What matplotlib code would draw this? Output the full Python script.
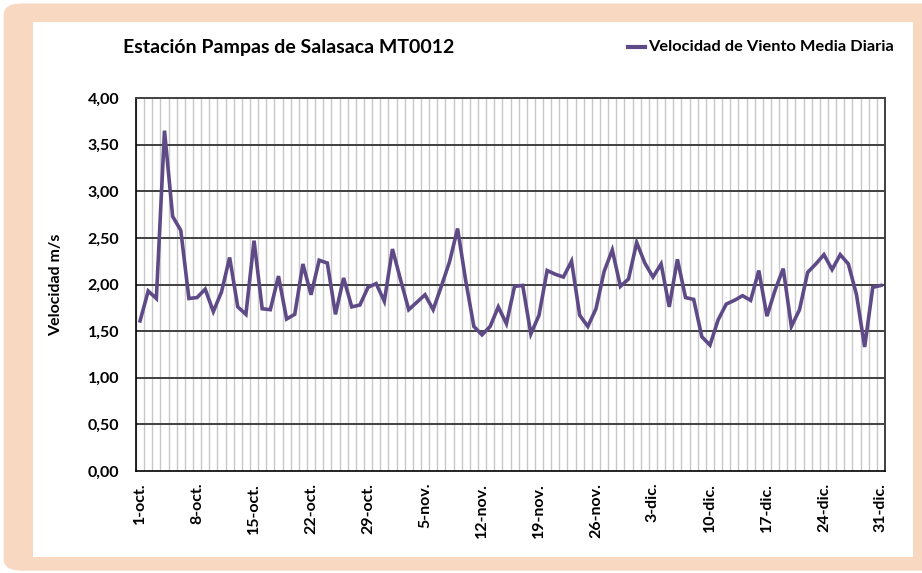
import numpy as np
import pandas as pd
import matplotlib
matplotlib.use("Agg")
import matplotlib.pyplot as plt
from matplotlib.patches import FancyBboxPatch, Rectangle

# velocidad media diaria (m/s), 1-oct .. 31-dic
velocidad = [
    1.61, 1.93, 1.85, 3.65, 2.73, 2.58, 1.85, 1.86, 1.95, 1.71,
    1.92, 2.29, 1.76, 1.68, 2.47, 1.74, 1.73, 2.09, 1.63, 1.68,
    2.22, 1.89, 2.26, 2.23, 1.68, 2.07, 1.76, 1.78, 1.97, 2.01,
    1.82, 2.38, 2.05, 1.73, 1.81, 1.89, 1.73, 1.98, 2.24, 2.60,
    2.04, 1.55, 1.46, 1.55, 1.76, 1.58, 1.98, 1.99, 1.47, 1.67,
    2.15, 2.11, 2.08, 2.25, 1.67, 1.55, 1.74, 2.14, 2.37, 1.98,
    2.06, 2.45, 2.23, 2.08, 2.22, 1.76, 2.27, 1.86, 1.84, 1.44,
    1.35, 1.62, 1.79, 1.83, 1.88, 1.83, 2.15, 1.66, 1.94, 2.17,
    1.55, 1.73, 2.13, 2.22, 2.32, 2.16, 2.32, 2.22, 1.89, 1.33,
    1.97, 1.99,
]
MESES = {10: "oct.", 11: "nov.", 12: "dic."}
fechas = pd.date_range("2013-10-01", periods=len(velocidad), freq="D")
etiquetas = [f"{d.day}-{MESES[d.month]}" for d in fechas]

TITULO = "Estación Pampas de Salasaca MT0012"
SERIE = "Velocidad de Viento Media Diaria"

FUENTE = "Lato"
COLOR_LINEA = "#5E4A86"
DURAZNO = "#F9D8C2"

fig = plt.figure(figsize=(9.22, 5.73), dpi=100)
fig.patch.set_facecolor("white")

# marco exterior y panel blanco (detrás de los ejes)
fig.patches.append(FancyBboxPatch((0.004, 0.004), 1.1, 0.99, boxstyle="round,pad=0,rounding_size=0.02",
                                  transform=fig.transFigure, facecolor=DURAZNO, edgecolor="none", zorder=-2))
fig.patches.append(Rectangle((33 / 922, 1 - 557 / 573), (913 - 33) / 922, (557 - 22) / 573,
                             transform=fig.transFigure, facecolor="white", edgecolor="none", zorder=-1))

ax = fig.add_axes([136 / 922, 1 - 471 / 573, (885 - 136) / 922, (471 - 98) / 573])
ax.set_facecolor("white")
x = np.arange(len(velocidad))

# cuadrícula: vertical diaria clara, horizontal cada 0,5 oscura
for xv in np.arange(-0.5, len(velocidad), 1.0):
    ax.axvline(xv, color="#C8C8C8", lw=1.0, zorder=1)
for yv in np.arange(0.5, 4.0, 0.5):
    ax.axhline(yv, color="#404040", lw=1.4, zorder=2)

ax.plot(x, velocidad, color=COLOR_LINEA, lw=2.6, zorder=3, solid_joinstyle="miter",
        label=SERIE)

ax.set_xlim(-0.5, len(velocidad) - 0.5)
ax.set_ylim(0, 4)
ax.set_yticks(np.arange(0, 4.01, 0.5))
ax.set_yticklabels([f"{v:.2f}".replace(".", ",") for v in np.arange(0, 4.01, 0.5)],
                   fontfamily=FUENTE, fontweight="bold", fontsize=11.5)
ticks_x = x[::7]
ax.set_xticks(ticks_x)
ax.set_xticklabels([etiquetas[i] for i in ticks_x], rotation=90,
                   fontfamily=FUENTE, fontweight="bold", fontsize=11.5)
ax.tick_params(axis="y", length=0, pad=12)
ax.tick_params(axis="x", length=0, pad=8.5)

for lado in ["left", "bottom"]:
    ax.spines[lado].set_color("#000000")
    ax.spines[lado].set_linewidth(1.2)
for lado in ["top", "right"]:
    ax.spines[lado].set_color("#404040")
    ax.spines[lado].set_linewidth(1.4)

ax.set_ylabel("Velocidad m/s", fontfamily=FUENTE, fontweight="bold", fontsize=11.5, labelpad=18)

fig.text(123 / 922, 1 - 47 / 573, TITULO, fontfamily=FUENTE, fontweight="bold",
         fontsize=14, va="center", ha="left")

# leyenda
fig.add_artist(plt.Line2D([628 / 922, 645 / 922], [1 - 47 / 573, 1 - 47 / 573],
                          color=COLOR_LINEA, lw=3, transform=fig.transFigure))
fig.text(648 / 922, 1 - 47 / 573, SERIE, fontfamily=FUENTE, fontweight="bold",
         fontsize=11.8, va="center", ha="left")

fig.savefig("out.png", dpi=100)
